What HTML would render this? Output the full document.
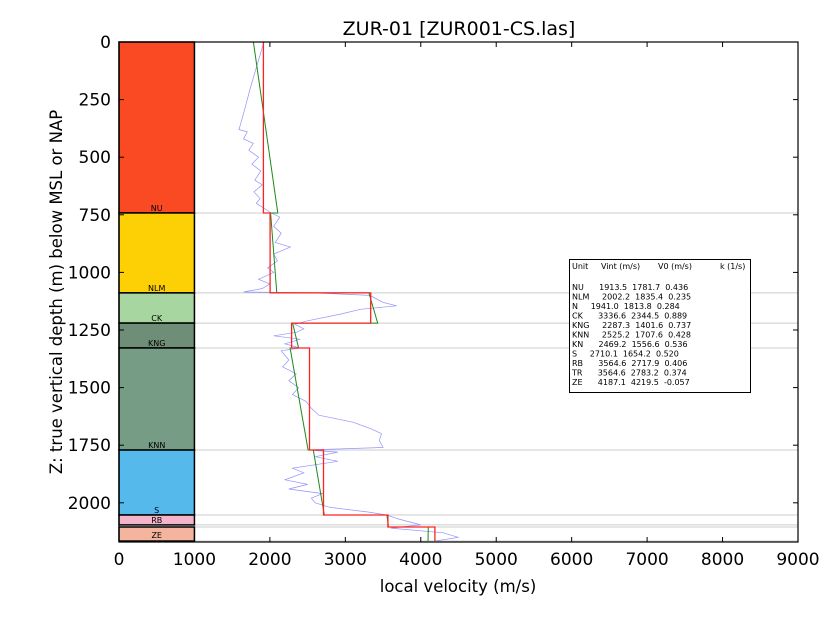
<!DOCTYPE html>
<html><head><meta charset="utf-8"><style>
body{margin:0;background:#fff;}
svg{font-family:"DejaVu Sans","Liberation Sans",sans-serif;}
</style></head><body>
<svg id="chart" width="840" height="630">
<text x="459" y="35" font-size="19" text-anchor="middle">ZUR-01 [ZUR001-CS.las]</text>
<text x="458" y="592" font-size="16.5" text-anchor="middle">local velocity (m/s)</text>
<text x="62" y="292" font-size="16.5" text-anchor="middle" transform="rotate(-90 62 292)">Z: true vertical depth (m) below MSL or NAP</text>
<g id="grid"></g><g id="layers"></g><g id="lines"></g><g id="axes"></g>
<g>
<rect x="569.5" y="259.5" width="181" height="133" fill="#fff" stroke="#000" stroke-width="1"/>
<text font-size="8" font-family="DejaVu Sans,sans-serif" xml:space="preserve">
<tspan x="572" y="269">Unit     Vint (m/s)       V0 (m/s)           k (1/s)</tspan>
<tspan x="572" y="290">NU      1913.5  1781.7  0.436</tspan>
<tspan x="572" y="299.5">NLM     2002.2  1835.4  0.235</tspan>
<tspan x="572" y="309">N     1941.0  1813.8  0.284</tspan>
<tspan x="572" y="318.5">CK      3336.6  2344.5  0.889</tspan>
<tspan x="572" y="328">KNG     2287.3  1401.6  0.737</tspan>
<tspan x="572" y="337.5">KNN     2525.2  1707.6  0.428</tspan>
<tspan x="572" y="347">KN      2469.2  1556.6  0.536</tspan>
<tspan x="572" y="356.5">S     2710.1  1654.2  0.520</tspan>
<tspan x="572" y="366">RB      3564.6  2717.9  0.406</tspan>
<tspan x="572" y="375.5">TR      3564.6  2783.2  0.374</tspan>
<tspan x="572" y="385">ZE      4187.1  4219.5  -0.057</tspan>
</text></g>
</svg>
<script>
const unitNames=["NU","NLM","CK","KNG","KNN","S","RB","TR","ZE"];
const unitTops=[0,742,1089,1220,1328,1771,2053,2096,2105];
const unitBases=[742,1089,1220,1328,1771,2053,2096,2105,2166];
const unitColors=["#fa4a24","#fdd005","#a8d6a0","#6f8e78","#779c86","#55b9ec","#f4b5cb","#ffffff","#f4b49e"];
const vint=[1913.5,2002.2,3336.6,2287.3,2525.2,2710.1,3564.6,3564.6,4187.1];
const v0=[1781.7,1835.4,2344.5,1401.6,1556.6,1654.2,2717.9,2783.2,4219.5];
const kval=[0.436,0.235,0.889,0.737,0.536,0.520,0.406,0.374,-0.057];
const logDepth=[0,100,200,300,380,390,420,440,470,500,530,560,600,620,650,680,700,742,760,800,830,870,890,920,950,980,1000,1030,1050,1070,1085,1089,1100,1130,1145,1160,1180,1210,1225,1245,1260,1275,1290,1310,1328,1340,1380,1410,1440,1470,1500,1530,1560,1590,1620,1650,1680,1700,1730,1760,1771,1780,1800,1820,1850,1870,1900,1920,1940,1960,1980,2000,2020,2040,2053,2070,2096,2110,2130,2150,2165];
const logVel=[1920,1830,1740,1660,1590,1700,1650,1780,1720,1850,1760,1880,1800,1900,1790,1870,1820,2020,2130,2050,2150,2070,2270,2050,2100,1970,2050,1850,2000,1900,1650,2600,3327,3500,3680,3200,2950,2500,2330,2450,2350,2050,2400,2200,2400,2150,2250,2170,2350,2250,2380,2300,2480,2550,2650,3100,3350,3480,3450,3500,2500,2900,2600,2900,2300,2450,2200,2500,2250,2700,2550,2600,2800,3300,3550,3700,4000,3600,4300,4500,4200];
const xTicks=[0,1000,2000,3000,4000,5000,6000,7000,8000,9000];
const yTicks=[0,250,500,750,1000,1250,1500,1750,2000];
const X0=119,X1=798,Y0=42,Y1=542,XMAX=9000,ZMAX=(Y1-Y0)/0.2304;
const sx=v=>X0+v/XMAX*(X1-X0);
const sy=z=>Y0+z/ZMAX*(Y1-Y0);
const NS="http://www.w3.org/2000/svg";
function mk(parent,tag,attrs){const e=document.createElementNS(NS,tag);for(const k in attrs)e.setAttribute(k,attrs[k]);document.getElementById(parent).appendChild(e);return e;}
unitBases.forEach((z,i)=>{const l=mk("grid","line",{x1:sx(1000),x2:X1,y1:sy(z),y2:sy(z),stroke:"#ccc","stroke-width":1});

});
unitNames.forEach((n,i)=>{
 if(unitBases[i]-unitTops[i]<12)return;
 const r=mk("layers","rect",{x:sx(0),y:sy(unitTops[i]),width:sx(1000)-sx(0),height:sy(unitBases[i])-sy(unitTops[i]),fill:unitColors[i],stroke:"#000","stroke-width":1.5});
 
 
 const t=mk("layers","text",{x:sx(500),y:sy(unitBases[i])-(n==="ZE"?3:2),"font-size":8,"text-anchor":"middle",fill:"#000"});t.textContent=n;
 
 
});
let d=logDepth.map((z,i)=>(i?"L":"M")+sx(logVel[i]).toFixed(1)+","+sy(z).toFixed(1)).join("");
const bl=mk("lines","path",{d:d,fill:"none",stroke:"#7777ff","stroke-width":0.7,"stroke-opacity":0.8});


let rd="",gd="";
unitNames.forEach((n,i)=>{
 rd+=(i?"L":"M")+sx(vint[i]).toFixed(1)+","+sy(unitTops[i]).toFixed(1)+"L"+sx(vint[i]).toFixed(1)+","+sy(unitBases[i]).toFixed(1);
 gd+=(i?"L":"M")+sx(v0[i]+kval[i]*unitTops[i]).toFixed(1)+","+sy(unitTops[i]).toFixed(1)+"L"+sx(v0[i]+kval[i]*unitBases[i]).toFixed(1)+","+sy(unitBases[i]).toFixed(1);
});
const gl=mk("lines","path",{d:gd,fill:"none",stroke:"#1a8a1a","stroke-width":1});


const rl=mk("lines","path",{d:rd,fill:"none",stroke:"#ff2020","stroke-width":1.3});


const fr=mk("axes","rect",{x:X0,y:Y0,width:X1-X0,height:Y1-Y0,fill:"none",stroke:"#000","stroke-width":1.2});


xTicks.forEach(v=>{
 mk("axes","line",{x1:sx(v),x2:sx(v),y1:Y1,y2:Y1-5,stroke:"#000"});
 mk("axes","line",{x1:sx(v),x2:sx(v),y1:Y0,y2:Y0+5,stroke:"#000"});
 const t=mk("axes","text",{x:sx(v),y:Y1+23,"font-size":17,"text-anchor":"middle"});t.textContent=v;
 
 
});
yTicks.forEach(z=>{
 mk("axes","line",{x1:X0,x2:X0+5,y1:sy(z),y2:sy(z),stroke:"#000"});
 mk("axes","line",{x1:X1,x2:X1-5,y1:sy(z),y2:sy(z),stroke:"#000"});
 const t=mk("axes","text",{x:X0-8,y:sy(z)+6,"font-size":17,"text-anchor":"end"});t.textContent=z;
 
 
});
</script>
</body></html>
